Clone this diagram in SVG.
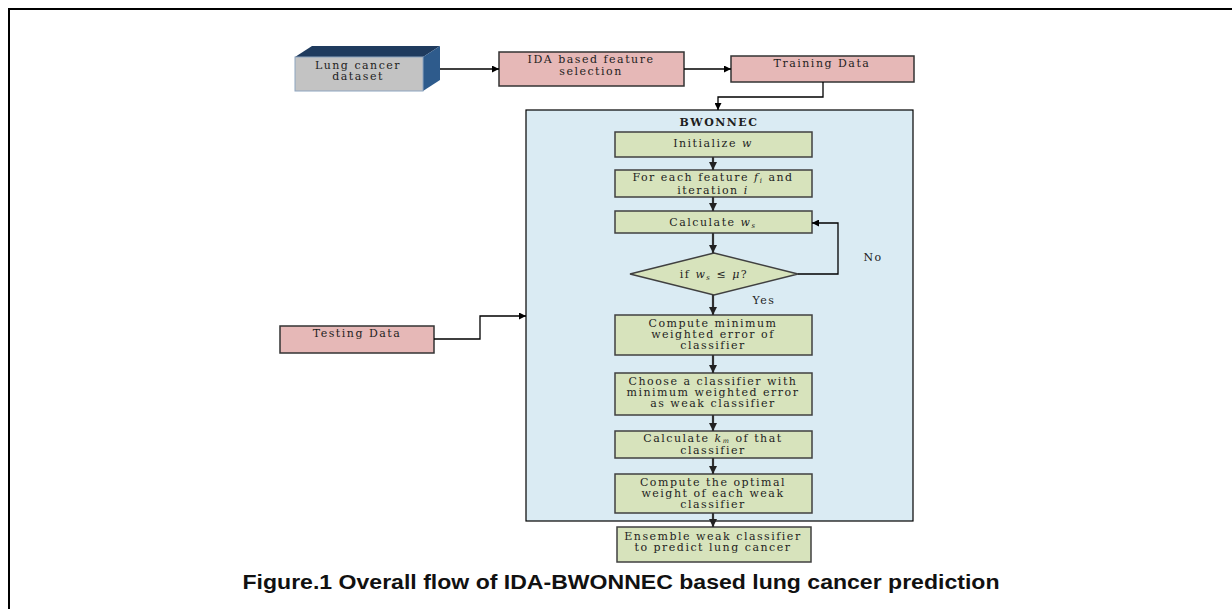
<svg xmlns="http://www.w3.org/2000/svg" width="1232" height="609" viewBox="0 0 1232 609">
<defs>
<marker id="ah" viewBox="0 0 10 10" refX="10" refY="5" markerWidth="7" markerHeight="7" markerUnits="userSpaceOnUse" orient="auto"><path d="M0,0 L10,5 L0,10 z" fill="#000"/></marker>
<marker id="ah2" viewBox="0 0 10 10" refX="10" refY="5" markerWidth="8" markerHeight="9" markerUnits="userSpaceOnUse" orient="auto"><path d="M0,0 L10,5 L0,10 z" fill="#222"/></marker>
</defs>
<style>
.t{font-family:"DejaVu Serif","Liberation Serif",serif;font-size:11px;letter-spacing:1.5px;fill:#1e1e1e;text-anchor:middle}
.pink{fill:#e6b8b7;stroke:#333;stroke-width:1.5}
.grn{fill:#d7e3bc;stroke:#404040;stroke-width:1.5}
.c{fill:none;stroke:#000;stroke-width:1.3}
.ci{fill:none;stroke:#333;stroke-width:2.2}
</style>
<rect width="1232" height="609" fill="#fff"/>
<path d="M9,609 V9 H1232" fill="none" stroke="#000" stroke-width="2"/>

<g id="dataset">
<polygon points="295,57 312,46 440,46 423,57" fill="#1f3b5e"/>
<polygon points="423,57 440,46 440,80 423,91" fill="#2e5b8c"/>
<rect x="295" y="57" width="128" height="34" fill="#c3c3c3" stroke="#8ea5c0" stroke-width="1"/>
<text class="t" x="358" y="69">Lung cancer</text>
<text class="t" x="358" y="80">dataset</text>
</g>

<g id="ida">
<rect class="pink" x="499" y="52" width="185" height="34"/>
<text class="t" x="591" y="63">IDA based feature</text>
<text class="t" x="591" y="75">selection</text>
</g>

<g id="training">
<rect class="pink" x="731" y="56" width="183" height="26"/>
<text class="t" x="822" y="67">Training Data</text>
</g>

<g id="testing">
<rect class="pink" x="280" y="326" width="154" height="27"/>
<text class="t" x="357" y="337">Testing Data</text>
</g>

<g id="bwonnec">
<rect x="526" y="110" width="387" height="411" fill="#daebf3" stroke="#000" stroke-width="1.2"/>
<text class="t" x="719" y="126" font-weight="bold" font-size="13" letter-spacing="3">BWONNEC</text>
</g>

<g id="init">
<rect class="grn" x="615" y="132" width="197" height="25"/>
<text class="t" x="713" y="147">Initialize <tspan font-style="italic">w</tspan></text>
</g>

<g id="foreach">
<rect class="grn" x="615" y="170" width="197" height="27"/>
<text class="t" x="713" y="181">For each feature <tspan font-style="italic">f</tspan><tspan font-style="italic" font-size="7" dy="1.5">i</tspan><tspan dy="-1.5"> and</tspan></text>
<text class="t" x="713" y="193.5">iteration <tspan font-style="italic">i</tspan></text>
</g>

<g id="calcw">
<rect class="grn" x="615" y="211" width="197" height="22"/>
<text class="t" x="713" y="226">Calculate <tspan font-style="italic">w</tspan><tspan font-style="italic" font-size="7" dy="2">s</tspan></text>
</g>

<g id="decision">
<polygon points="630,274 714,253 798,274 714,295" fill="#d7e3bc" stroke="#404040" stroke-width="1.5"/>
<text class="t" x="714" y="278">if <tspan font-style="italic">w</tspan><tspan font-style="italic" font-size="7" dy="2">s</tspan><tspan dy="-2"> ≤ </tspan><tspan font-style="italic">μ</tspan>?</text>
</g>

<g id="compmin">
<rect class="grn" x="615" y="315" width="197" height="40"/>
<text class="t" x="713" y="327">Compute minimum</text>
<text class="t" x="713" y="338">weighted error of</text>
<text class="t" x="713" y="349">classifier</text>
</g>

<g id="choose">
<rect class="grn" x="615" y="373" width="197" height="42"/>
<text class="t" x="713" y="385">Choose a classifier with</text>
<text class="t" x="713" y="396">minimum weighted error</text>
<text class="t" x="713" y="407">as weak classifier</text>
</g>

<g id="calck">
<rect class="grn" x="615" y="431" width="197" height="27"/>
<text class="t" x="713" y="441.5">Calculate <tspan font-style="italic">k</tspan><tspan font-style="italic" font-size="6.5" dy="1">m</tspan><tspan dy="-1"> of that</tspan></text>
<text class="t" x="713" y="454">classifier</text>
</g>

<g id="optimal">
<rect class="grn" x="615" y="474" width="197" height="39"/>
<text class="t" x="713" y="486">Compute the optimal</text>
<text class="t" x="713" y="497">weight of each weak</text>
<text class="t" x="713" y="508">classifier</text>
</g>

<g id="ensemble">
<rect class="grn" x="617" y="527" width="194" height="35"/>
<text class="t" x="713" y="540">Ensemble weak classifier</text>
<text class="t" x="713" y="551">to predict lung cancer</text>
</g>

<g id="connectors">
<path class="c" d="M440,69 H499" marker-end="url(#ah)"/>
<path class="c" d="M684,69 H731" marker-end="url(#ah)"/>
<path class="c" d="M823,82 V97 H718 V110" marker-end="url(#ah)"/>
<path class="c" d="M434,339 H480 V316 H526" marker-end="url(#ah)"/>
<path class="ci" d="M713,157 V170" marker-end="url(#ah2)"/>
<path class="ci" d="M713,197 V211" marker-end="url(#ah2)"/>
<path class="ci" d="M713,233 V253" marker-end="url(#ah2)"/>
<path class="c" d="M798,274 H838 V223 H812" marker-end="url(#ah)"/>
<path class="ci" d="M713,295 V315" marker-end="url(#ah2)"/>
<path class="ci" d="M713,355 V373" marker-end="url(#ah2)"/>
<path class="ci" d="M713,415 V431" marker-end="url(#ah2)"/>
<path class="ci" d="M713,458 V474" marker-end="url(#ah2)"/>
<path class="ci" d="M713,513 V527" marker-end="url(#ah2)"/>
<text class="t" x="873" y="261">No</text>
<text class="t" x="764" y="304">Yes</text>
</g>

<text x="621" y="589" font-family="'Liberation Sans',Arial,sans-serif" font-weight="bold" font-size="21" text-anchor="middle" textLength="757" lengthAdjust="spacingAndGlyphs" fill="#111">Figure.1 Overall flow of IDA-BWONNEC based lung cancer prediction</text>
</svg>
